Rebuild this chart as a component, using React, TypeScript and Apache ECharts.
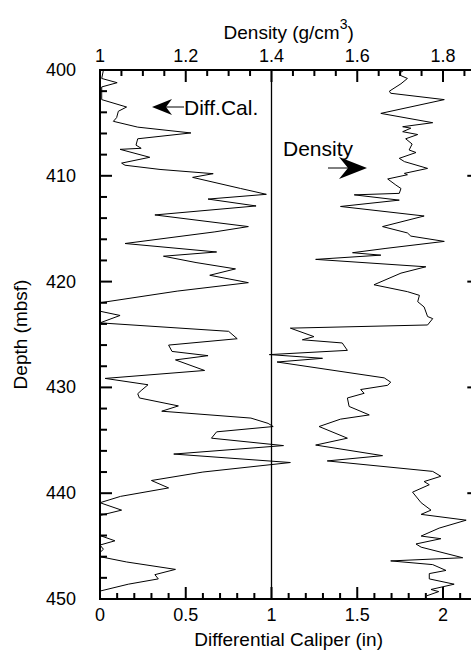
import React, { useEffect, useRef } from "react";
import * as echarts from "echarts";

// ---- data ----
const depthMin = 400;
const depthMax = 450;
const depthInterval = 10;
const depthMajorTicks = [400, 410, 420, 430, 440, 450];
const depthMinorTicks = [402, 404, 406, 408, 412, 414, 416, 418, 422, 424, 426, 428, 432, 434, 436, 438, 442, 444, 446, 448];

const caliperMin = 0;
const caliperMax = 2.2;
const caliperMajor = 0.5;
const caliperMajorTicks = [0, 0.5, 1, 1.5, 2];
const caliperMinorTicks = [0.1, 0.2, 0.3, 0.4, 0.6, 0.7, 0.8, 0.9, 1.1, 1.2, 1.3, 1.4, 1.6, 1.7, 1.8, 1.9, 2.1];

const densityMin = 1;
const densityMax = 1.88;
const densityMajor = 0.2;
const densityMajorTicks = [1, 1.2, 1.4, 1.6, 1.8];
const densityMinorTicks = [1.05, 1.1, 1.15, 1.25, 1.3, 1.35, 1.45, 1.5, 1.55, 1.65, 1.7, 1.75, 1.85];

const caliperReference = 1;

const caliperDepth = [
  400.0, 400.8, 401.2, 401.6, 402.8, 403.5, 403.9, 404.5, 404.85, 405.4,
  405.95, 406.5, 407.1, 407.4, 407.5, 408.25, 408.8, 409.0, 409.4, 409.8,
  410.15, 411.2, 411.75, 412.2, 412.85, 413.7, 414.8, 415.3, 416.4, 417.2,
  417.6, 418.2, 418.8, 419.4, 420.1, 420.9, 422.0, 422.8, 423.2, 423.9,
  424.7, 425.4, 426.0, 426.6, 427.0, 427.4, 428.4, 429.15, 429.75, 430.3,
  430.6, 431.0, 431.75, 432.25, 432.9, 433.4, 433.7, 434.2, 434.8, 435.5,
  436.3, 437.1, 438.0, 438.8, 439.5, 440.3, 440.9, 441.6, 442.1, 444.0,
  444.5, 444.9, 445.3, 445.6, 446.0, 446.5, 447.2, 447.7, 448.1, 448.6,
  449.25,
];
const caliperValue = [
  0.02, 0.01, 0.1, 0.01, 0.01, 0.155, 0.107, 0.097, 0.078, 0.22,
  0.53, 0.22, 0.21, 0.24, 0.117, 0.29, 0.126, 0.146, 0.35, 0.66,
  0.54, 0.82, 0.97, 0.63, 0.91, 0.32, 0.865, 0.67, 0.146, 0.68,
  0.37, 0.56, 0.79, 0.64, 0.865, 0.45, 0.0, 0.0, 0.117, 0.0,
  0.75, 0.8, 0.4, 0.42, 0.63, 0.44, 0.61, 0.03, 0.28, 0.24,
  0.22, 0.23, 0.457, 0.36, 0.88, 0.98, 1.01, 0.68, 0.65, 1.07,
  0.43, 1.11, 0.6, 0.3, 0.4, 0.12, 0.0, 0.126, 0.0, 0.0,
  0.087, 0.0, 0.02, 0.0, 0.0, 0.155, 0.44, 0.32, 0.34, 0.165,
  0.0,
];

const densityDepth = [
  400.0, 400.3, 400.5, 400.8, 401.3, 402.0, 402.2, 402.8, 404.1, 404.98,
  405.36, 405.5, 405.83, 406.1, 406.5, 407.0, 407.56, 407.8, 408.35, 408.66,
  409.3, 409.77, 409.9, 410.3, 410.87, 411.2, 411.66, 411.8, 412.3, 412.9,
  413.8, 414.8, 415.4, 415.7, 416.2, 416.86, 417.27, 417.5, 417.9, 418.6,
  419.2, 420.3, 420.95, 421.3, 421.9, 422.4, 423.3, 423.5, 424.1, 424.4,
  425.2, 425.5, 425.8, 426.5, 426.9, 427.25, 427.6, 429.1, 429.5, 429.8,
  430.2, 430.56, 431.0, 431.8, 432.6, 433.0, 433.7, 434.8, 435.45, 436.45,
  436.95, 437.94, 438.4, 438.9, 439.2, 439.9, 440.9, 441.6, 442.0, 442.55,
  443.3, 444.05, 444.3, 444.8, 445.1, 446.1, 446.4, 446.75, 447.3, 447.6,
  448.1, 448.6, 449.1, 449.3, 449.7,
];
const densityValue = [
  1.71, 1.698, 1.7, 1.717, 1.702, 1.675, 1.678, 1.803, 1.655, 1.776,
  1.706, 1.725, 1.706, 1.741, 1.713, 1.728, 1.721, 1.737, 1.698, 1.71,
  1.764, 1.71, 1.717, 1.671, 1.69, 1.702, 1.698, 1.593, 1.698, 1.561,
  1.756, 1.659, 1.717, 1.725, 1.803, 1.667, 1.589, 1.655, 1.503, 1.76,
  1.702, 1.639, 1.717, 1.745, 1.741, 1.756, 1.764, 1.776, 1.764, 1.444,
  1.499, 1.472, 1.565, 1.577, 1.395, 1.519, 1.413, 1.663, 1.678, 1.671,
  1.608, 1.616, 1.577, 1.581, 1.628, 1.561, 1.511, 1.577, 1.503, 1.659,
  1.53, 1.776, 1.795, 1.756, 1.768, 1.729, 1.749, 1.772, 1.749, 1.854,
  1.791, 1.749, 1.795, 1.737, 1.749, 1.846, 1.678, 1.776, 1.807, 1.768,
  1.768, 1.826, 1.772, 1.79, 1.762,
];

const FONT = "'Liberation Sans', Arial, Helvetica, sans-serif";
const BLACK = "#000000";

const labelStyle = () => ({ fontFamily: FONT, fontSize: 18, fontWeight: "normal", color: BLACK });
const nameStyle = () => ({ fontFamily: FONT, fontSize: 19, fontWeight: "normal", color: BLACK });
const hiddenLine = () => ({ show: false, onZero: false });
const hiddenTick = () => ({ show: false });

const annotationGraphics = [
  { type: "polygon", z: 100, shape: { points: [[152, 107], [172, 99], [166, 107], [172, 115]] }, style: { fill: BLACK } },
  { type: "line", z: 100, shape: { x1: 166, y1: 107, x2: 184, y2: 107 }, style: { stroke: BLACK, lineWidth: 1 } },
  {
    type: "text",
    z: 100,
    x: 184,
    y: 107,
    style: { text: "Diff.Cal.", font: `21px ${FONT}`, fill: BLACK, verticalAlign: "middle", align: "left" },
  },
  {
    type: "text",
    z: 100,
    x: 283,
    y: 148,
    style: { text: "Density", font: `21px ${FONT}`, fill: BLACK, verticalAlign: "middle", align: "left" },
  },
  { type: "line", z: 100, shape: { x1: 328, y1: 168, x2: 352, y2: 168 }, style: { stroke: BLACK, lineWidth: 1 } },
  { type: "polygon", z: 100, shape: { points: [[367, 168], [339, 157], [348, 168], [339, 179]] }, style: { fill: BLACK } },
];

export default function App() {
  const ref = useRef<HTMLDivElement>(null);

  useEffect(() => {
    if (!ref.current) return;
    const chart = echarts.init(ref.current, null, { renderer: "svg" });

    const caliperData = caliperDepth.map((d, i) => [caliperValue[i], d]);
    const densityData = densityDepth.map((d, i) => [densityValue[i], d]);
    const refLine = [
      [caliperReference, depthMin],
      [caliperReference, depthMax],
    ];

    chart.setOption({
      animation: false,
      grid: {
        left: 100,
        top: 70,
        width: 377.3,
        height: 529,
        containLabel: false,
        outerBoundsMode: "none",
        show: false,
      },
      xAxis: [
        {
          type: "value",
          position: "bottom",
          min: caliperMin,
          max: caliperMax,
          interval: caliperMajor,
          axisLine: hiddenLine(),
          axisTick: hiddenTick(),
          splitLine: { show: false },
          axisLabel: { ...labelStyle(), margin: 7, showMaxLabel: false },
          name: "Differential Caliper (in)",
          nameLocation: "middle",
          nameGap: 31,
          nameMoveOverlap: false,
          nameTextStyle: nameStyle(),
        },
        {
          type: "value",
          position: "top",
          min: densityMin,
          max: densityMax,
          interval: densityMajor,
          axisLine: hiddenLine(),
          axisTick: hiddenTick(),
          splitLine: { show: false },
          axisLabel: { ...labelStyle(), margin: 5, showMaxLabel: false },
          name: "Density (g/cm{sup|3})",
          nameLocation: "middle",
          nameGap: 23,
          nameTextStyle: {
            ...nameStyle(),
            rich: {
              sup: { fontFamily: FONT, fontSize: 14, fontWeight: "normal", color: BLACK, padding: [0, 0, 16, 0] },
            },
          },
        },
      ],
      yAxis: [
        {
          type: "value",
          position: "left",
          inverse: true,
          min: depthMin,
          max: depthMax,
          interval: depthInterval,
          axisLine: hiddenLine(),
          axisTick: hiddenTick(),
          splitLine: { show: false },
          axisLabel: { ...labelStyle(), margin: 24 },
          name: "Depth (mbsf)",
          nameLocation: "middle",
          nameGap: 70,
          nameMoveOverlap: false,
          nameTextStyle: nameStyle(),
        },
      ],
      series: [
        {
          name: "Diff.Cal.",
          type: "line",
          xAxisIndex: 0,
          yAxisIndex: 0,
          data: caliperData,
          symbol: "none",
          lineStyle: { color: BLACK, width: 1 },
        },
        {
          name: "Density",
          type: "line",
          xAxisIndex: 1,
          yAxisIndex: 0,
          data: densityData,
          symbol: "none",
          lineStyle: { color: BLACK, width: 1 },
        },
        {
          name: "reference",
          type: "line",
          xAxisIndex: 0,
          yAxisIndex: 0,
          data: refLine,
          symbol: "none",
          clip: false,
          lineStyle: { color: BLACK, width: 1.3 },
        },
      ],
    });

    // frame and ticks as thin filled polygons, positioned through the chart's own scales
    const cx = (v: number) => chart.convertToPixel({ xAxisIndex: 0 }, v) as number;
    const dx = (v: number) => chart.convertToPixel({ xAxisIndex: 1 }, v) as number;
    const yy = (v: number) => chart.convertToPixel({ yAxisIndex: 0 }, v) as number;

    const els: any[] = [];
    const bar = (x0: number, y0: number, x1: number, y1: number) => {
      const a = Math.min(x0, x1), b = Math.max(x0, x1);
      const c = Math.min(y0, y1), d = Math.max(y0, y1);
      els.push({
        type: "polygon",
        z: 100,
        shape: { points: [[a, c], [b, c], [b, d], [a, d]] },
        style: { fill: BLACK },
      });
    };
    const hBar = (x0: number, x1: number, y: number) => bar(x0, y - 1, x1, y + 1);
    const vBar = (x: number, y0: number, y1: number) => bar(x - 1, y0, x + 1, y1);

    const L = cx(caliperMin);
    const R = cx(caliperMax);
    const T = yy(depthMin);
    const B = yy(depthMax);
    if ([L, R, T, B].every((v) => Number.isFinite(v))) {
      hBar(L - 1, R, T);
      hBar(L - 1, R, B);
      vBar(L, T - 1, B + 1);
      vBar(R, T - 1, B + 1);
      depthMajorTicks.forEach((d) => {
        const y = yy(d);
        hBar(L, L + 12, y);
        hBar(R - 10, R, y);
      });
      depthMinorTicks.forEach((d) => hBar(L, L + 7, yy(d)));
      caliperMajorTicks.forEach((c) => vBar(cx(c), B - 12, B));
      caliperMinorTicks.forEach((c) => vBar(cx(c), B - 6, B));
      densityMajorTicks.forEach((v) => vBar(dx(v), T, T + 12));
      densityMinorTicks.forEach((v) => vBar(dx(v), T, T + 6));
    }

    chart.setOption({ graphic: [...annotationGraphics, ...els] });

    return () => chart.dispose();
  }, []);

  return (
    <div
      ref={ref}
      style={{ position: "fixed", left: 0, top: 0, width: 471, height: 651, background: "#fff" }}
    />
  );
}
